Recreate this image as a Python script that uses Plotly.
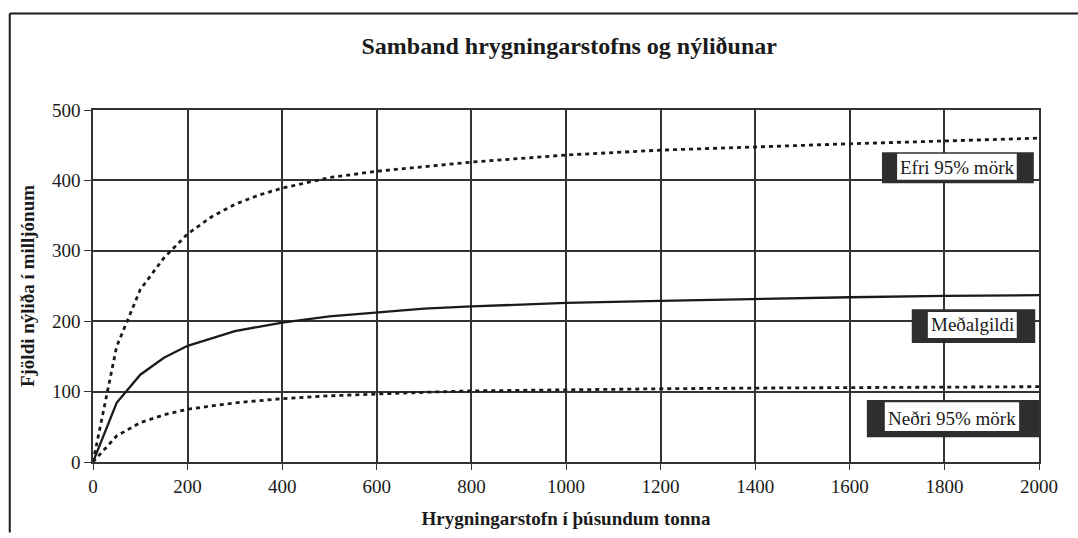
import plotly.graph_objects as go

# Data
spawning_stock = [0, 50, 100, 150, 200, 250, 300, 350, 400, 500, 600, 700, 800, 900, 1000, 1200, 1400, 1600, 1800, 2000]
upper_95 = [0, 164, 245, 290, 324, 348, 366, 379, 389, 404, 413, 420, 426, 431, 436, 443, 448, 452, 456, 460]
mean_rec = [0, 84, 124, 148, 165, 176, 186, 192, 198, 207, 213, 218, 221, 224, 226, 229, 232, 234, 236, 237]
lower_95 = [0, 37, 56, 67, 75, 80, 84, 87, 90, 94, 97, 99, 101, 102, 103, 104, 105, 106, 107, 107]

x_ticks = [0, 200, 400, 600, 800, 1000, 1200, 1400, 1600, 1800, 2000]
y_ticks = [0, 100, 200, 300, 400, 500]

labels = ["Efri 95% mörk", "Meðalgildi", "Neðri 95% mörk"]
label_x = [1826, 1859, 1816]
label_y = [419, 195, 62]
# label box extents (outer dark frame, inner white box) in data units
outer_boxes = [(1668, 1989, 396, 440), (1731, 1992, 169, 217), (1636, 2000, 35, 88)]
inner_boxes = [(1700, 1953, 401, 438), (1765, 1953, 176, 213), (1674, 1958, 44, 85)]

FONT = "Liberation Serif"
INK = "#1a1a1a"

fig = go.Figure()
fig.add_trace(go.Scatter(x=spawning_stock, y=upper_95, mode="lines", name=labels[0],
                         line=dict(color=INK, width=2.8, dash="4px,4px")))
fig.add_trace(go.Scatter(x=spawning_stock, y=mean_rec, mode="lines", name=labels[1],
                         line=dict(color=INK, width=2.3)))
fig.add_trace(go.Scatter(x=spawning_stock, y=lower_95, mode="lines", name=labels[2],
                         line=dict(color=INK, width=2.8, dash="4px,4px")))

shapes = []
for (x0, x1, y0, y1) in outer_boxes:
    shapes.append(dict(type="rect", xref="x", yref="y", x0=x0, x1=x1, y0=y0, y1=y1,
                       fillcolor="#2e2e2e", line=dict(width=0), layer="above"))
for (x0, x1, y0, y1) in inner_boxes:
    shapes.append(dict(type="rect", xref="x", yref="y", x0=x0, x1=x1, y0=y0, y1=y1,
                       fillcolor="white", line=dict(width=0), layer="above"))
# outer frame of the figure (left and top edges visible)
shapes.append(dict(type="line", xref="paper", yref="paper", x0=-0.088, x1=-0.088, y0=-0.2, y1=1.274,
                   line=dict(color=INK, width=2)))
shapes.append(dict(type="line", xref="paper", yref="paper", x0=-0.088, x1=1.1, y0=1.274, y1=1.274,
                   line=dict(color=INK, width=2)))

annotations = []
for t, x, y in zip(labels, label_x, label_y):
    annotations.append(dict(x=x, y=y, xref="x", yref="y", text=t, showarrow=False,
                            font=dict(family=FONT, size=19, color=INK)))

fig.update_layout(
    width=1078, height=538,
    margin=dict(l=93, r=39, t=110, b=76, autoexpand=False),
    paper_bgcolor="white", plot_bgcolor="white",
    showlegend=False,
    font=dict(family=FONT, color=INK),
    title=dict(text="<b>Samband hrygningarstofns og nýliðunar</b>", x=0.528, xanchor="center",
               y=0.916, yanchor="middle", font=dict(family=FONT, size=24, color=INK)),
    shapes=shapes,
    annotations=annotations,
)
fig.update_xaxes(range=[0, 2000], tickvals=x_ticks, ticktext=[str(v) for v in x_ticks],
                 showgrid=True, gridcolor="#333", gridwidth=1.5, automargin=False,
                 showline=True, linecolor="#333", linewidth=1.5, mirror=True,
                 ticks="outside", ticklen=6, tickcolor="#333", zeroline=False,
                 tickfont=dict(family=FONT, size=19, color=INK),
                 title=dict(text="<b>Hrygningarstofn í þúsundum tonna</b>", standoff=16,
                            font=dict(family=FONT, size=19, color=INK)))
fig.update_yaxes(range=[0, 500], tickvals=y_ticks, ticktext=[str(v) for v in y_ticks],
                 showgrid=True, gridcolor="#333", gridwidth=1.5, automargin=False,
                 showline=True, linecolor="#333", linewidth=1.5, mirror=True,
                 ticks="outside", ticklen=7, tickcolor="#333", zeroline=False,
                 tickfont=dict(family=FONT, size=19, color=INK),
                 title=dict(text="<b>Fjöldi nýliða í milljónum</b>", standoff=12,
                            font=dict(family=FONT, size=19, color=INK)))

fig.write_html("out.html", config={"displayModeBar": False},
               post_script="document.body.style.margin='0';")
